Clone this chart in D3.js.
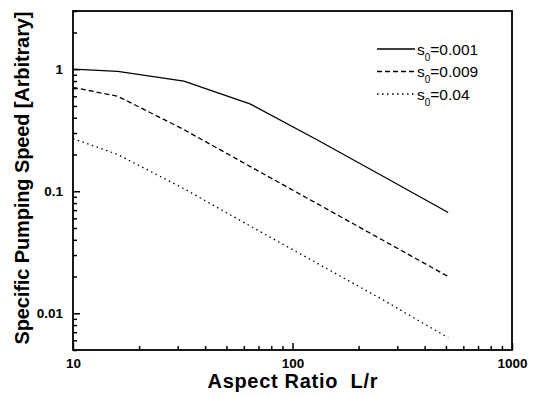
<!DOCTYPE html>
<html>
<head>
<meta charset="utf-8">
<script src="https://cdn.jsdelivr.net/npm/d3@7"></script>
<style>
  body { margin: 0; background: #fff; }
  svg { display: block; font-family: "Liberation Sans", Arial, sans-serif; }
</style>
</head>
<body>
<svg id="chart" width="535" height="397"></svg>
<script>
// aspect ratio L/r
const aspect = [10, 16, 32, 64, 128, 256, 512];
// specific pumping speed per s0
const s001 = [1.0, 0.96, 0.8, 0.52, 0.267, 0.134, 0.067];
const s009 = [0.71, 0.6, 0.32, 0.16, 0.08, 0.04, 0.02];
const s04 = [0.27, 0.2, 0.105, 0.052, 0.026, 0.013, 0.0063];
const seriesNames = ["0.001", "0.009", "0.04"];
const xMajor = [10, 100, 1000];
const yMajor = [0.01, 0.1, 1];

const plotL = 73, plotR = 512, plotT = 11, plotB = 350;
const svg = d3.select("#chart");

const x = d3.scaleLog().domain([10, 1000]).range([plotL, plotR]);
const y = d3.scaleLog().domain([0.005, 3]).range([plotB, plotT]);

// minor ticks
const xMinor = [];
[10, 100].forEach(d => { for (let k = 2; k <= 9; k++) xMinor.push(d * k); });
const yMinor = [];
[0.001, 0.01, 0.1, 1].forEach(d => {
  for (let k = 2; k <= 9; k++) {
    const v = +(d * k).toPrecision(3);
    if (v >= 0.005 && v <= 3) yMinor.push(v);
  }
});

const fmt = d => String(d);

// x axis
svg.append("g")
  .attr("transform", `translate(0,${plotB})`)
  .call(d3.axisBottom(x).tickValues(xMinor).tickSize(-4).tickFormat(""))
  .call(g => g.select(".domain").remove());
svg.append("g")
  .attr("transform", `translate(0,${plotB})`)
  .call(d3.axisBottom(x).tickValues(xMajor).tickSize(-7).tickPadding(8).tickFormat(fmt))
  .call(g => g.select(".domain").remove());

// y axis
svg.append("g")
  .attr("transform", `translate(${plotL},0)`)
  .call(d3.axisLeft(y).tickValues(yMinor).tickSize(-4).tickFormat(""))
  .call(g => g.select(".domain").remove());
svg.append("g")
  .attr("transform", `translate(${plotL},0)`)
  .call(d3.axisLeft(y).tickValues(yMajor).tickSize(-7).tickPadding(10).tickFormat(fmt))
  .call(g => g.select(".domain").remove());

svg.selectAll(".tick line").attr("stroke", "#000").attr("stroke-width", 1.5);
svg.selectAll(".tick text")
  .attr("fill", "#000")
  .style("font-size", "13.5px")
  .style("font-weight", "bold")
  .style("font-family", "'Liberation Sans', Arial, sans-serif");

// frame
svg.append("rect")
  .attr("x", plotL).attr("y", plotT)
  .attr("width", plotR - plotL).attr("height", plotB - plotT)
  .attr("fill", "none").attr("stroke", "#000").attr("stroke-width", 1.8);

// lines
const dashes = [null, "5,3", "1.5,3.5"];
const allSeries = [s001, s009, s04];
const line = d3.line().x(d => x(d[0])).y(d => y(d[1]));
allSeries.forEach((vals, i) => {
  svg.append("path")
    .datum(aspect.map((a, j) => [a, vals[j]]))
    .attr("d", line)
    .attr("fill", "none")
    .attr("stroke", "#000")
    .attr("stroke-width", 1.3)
    .attr("stroke-dasharray", dashes[i]);
});

// legend
const legend = svg.append("g");
seriesNames.forEach((name, i) => {
  const ly = 49 + i * 22.5;
  legend.append("line")
    .attr("x1", 377).attr("x2", 415).attr("y1", ly).attr("y2", ly)
    .attr("stroke", "#000").attr("stroke-width", 1.3)
    .attr("stroke-dasharray", dashes[i]);
  const t = legend.append("text")
    .attr("x", 417).attr("y", ly + 5.5)
    .style("font-size", "15.5px");
  t.append("tspan").text("s");
  t.append("tspan").attr("dy", 6).style("font-size", "10px").text("0");
  t.append("tspan").attr("dy", -6).text("=" + name);
});

// axis titles
svg.append("text")
  .attr("x", (plotL + plotR) / 2).attr("y", 388)
  .attr("text-anchor", "middle")
  .attr("textLength", 170).attr("lengthAdjust", "spacing")
  .style("font-size", "20px").style("font-weight", "bold")
  .text("Aspect Ratio\u00a0\u00a0L/r");

svg.append("text")
  .attr("transform", "translate(29,178) rotate(-90)")
  .attr("text-anchor", "middle")
  .attr("textLength", 333).attr("lengthAdjust", "spacing")
  .style("font-size", "20px").style("font-weight", "bold")
  .text("Specific Pumping Speed [Arbitrary]");
</script>
</body>
</html>
